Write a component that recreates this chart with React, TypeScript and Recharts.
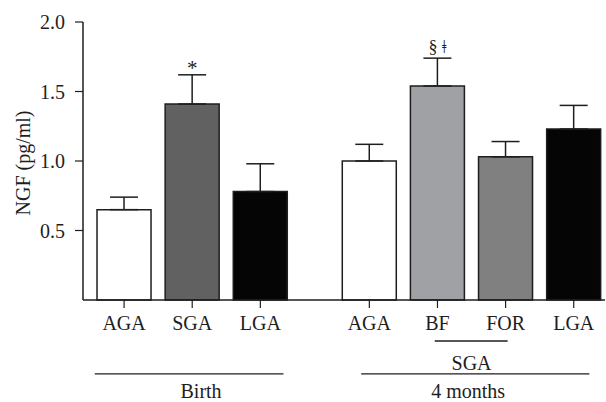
import React from 'react';
import {
  BarChart,
  Bar,
  XAxis,
  YAxis,
  ErrorBar,
  Cell,
  ReferenceLine,
  ReferenceDot,
} from 'recharts';

// ---- data ----
const categories = ['AGA', 'SGA', 'LGA', 'AGA', 'BF', 'FOR', 'LGA'];
const periods = ['Birth', 'Birth', 'Birth', '4 months', '4 months', '4 months', '4 months'];
const meanNGF = [0.65, 1.41, 0.78, 1.0, 1.54, 1.03, 1.23];
const semNGF = [0.09, 0.21, 0.2, 0.12, 0.2, 0.11, 0.17];
const significance = ['', '*', '', '', '§ ǂ', '', ''];
const yTicks = [0.5, 1.0, 1.5, 2.0];
const groupNames = ['Birth', '4 months'];
const subGroupName = 'SGA';
const subGroupMembers = ['BF', 'FOR'];

// ---- styles / layout ----
const FONT = '"Liberation Serif", "Times New Roman", serif';
const INK = '#1e1e1e';
const barFills = ['#ffffff', '#616161', '#050505', '#ffffff', '#a0a1a5', '#808080', '#050505'];
const GROUP_GAP = 0.6;
const X_MIN = -0.603;
const X_MAX = 7.059;
const GROUP_LINE_Y = -0.532;
const SUB_LINE_Y = -0.295;
const FS = 20;

// positions computed from group membership
const positions: number[] = (() => {
  const out: number[] = [];
  let groupIdx = -1;
  let prev = '';
  let p = -1;
  periods.forEach((g) => {
    if (g !== prev) {
      groupIdx += 1;
      p += groupIdx === 0 ? 1 : 1 + GROUP_GAP;
      prev = g;
    } else {
      p += 1;
    }
    out.push(p);
  });
  return out;
})();

const rows = categories.map((c, i) => ({
  pos: positions[i],
  category: c,
  period: periods[i],
  mean: meanNGF[i],
  errRange: [0, semNGF[i]],
  sig: significance[i],
}));

const groupSpan = (name: string) => {
  const ps = rows.filter((r) => r.period === name).map((r) => r.pos);
  return [Math.min(...ps), Math.max(...ps)];
};

const labelForPos = (v: number) => {
  const r = rows.find((d) => Math.abs(d.pos - v) < 1e-6);
  return r ? r.category : '';
};

const textStyle = { fontFamily: FONT, fontSize: FS, fill: INK };

export default function App() {
  const [bStart, bEnd] = groupSpan(groupNames[0]);
  const [mStart, mEnd] = groupSpan(groupNames[1]);
  const subPs = rows
    .filter((r) => r.period === groupNames[1] && subGroupMembers.includes(r.category))
    .map((r) => r.pos);
  const sStart = Math.min(...subPs);
  const sEnd = Math.max(...subPs);

  return (
    <div style={{ position: 'absolute', left: 0, top: 0, width: 606, height: 402, background: '#fff' }}>
      <BarChart
        width={606}
        height={402}
        data={rows}
        margin={{ top: 22, right: 1, bottom: 0, left: 0 }}
      >
        <XAxis
          dataKey="pos"
          type="number"
          domain={[X_MIN, X_MAX]}
          allowDataOverflow
          ticks={positions}
          interval={0}
          tickFormatter={labelForPos}
          height={102}
          tickSize={8}
          tickMargin={8}
          axisLine={{ stroke: INK, strokeWidth: 1.5 }}
          tickLine={{ stroke: INK, strokeWidth: 1.2 }}
          tick={textStyle}
        />
        <YAxis
          type="number"
          domain={[0, 2]}
          ticks={yTicks}
          interval={0}
          tickFormatter={(v: number) => v.toFixed(1)}
          width={83}
          tickSize={8}
          tickMargin={10}
          axisLine={{ stroke: INK, strokeWidth: 1.5 }}
          tickLine={{ stroke: INK, strokeWidth: 1.2 }}
          tick={textStyle}
          label={{
            content: (props: any) => {
              const vb = props.viewBox || { x: 0, y: 22, width: 83, height: 278 };
              const cx = vb.x + 30;
              const cy = vb.y + vb.height / 2 + 2;
              return (
                <text
                  x={cx}
                  y={cy}
                  transform={`rotate(-90, ${cx}, ${cy})`}
                  textAnchor="middle"
                  style={{ fontFamily: FONT, fontSize: FS, fill: INK }}
                >
                  NGF (pg/ml)
                </text>
              );
            },
          }}
        />
        <Bar
          dataKey="mean"
          barSize={54}
          stroke={INK}
          strokeWidth={1.5}
          isAnimationActive={false}
        >
          {rows.map((r, i) => (
            <Cell key={i} fill={barFills[i]} />
          ))}
          <ErrorBar dataKey="errRange" width={14} stroke={INK} strokeWidth={1.5} direction="y" />
        </Bar>

        {rows
          .filter((r) => r.sig)
          .map((r, i) => (
            <ReferenceDot
              key={`sig-${i}`}
              x={r.pos}
              y={r.mean + r.errRange[1]}
              r={0}
              fill="none"
              stroke="none"
              ifOverflow="visible"
              label={{
                value: r.sig,
                position: 'top',
                offset: r.sig === '*' ? 0 : 5,
                fontFamily: FONT,
                fontSize: r.sig === '*' ? 21 : 18,
                fill: INK,
              }}
            />
          ))}

        {/* group lines */}
        <ReferenceLine
          segment={[
            { x: bStart - 0.43, y: GROUP_LINE_Y },
            { x: bEnd + 0.34, y: GROUP_LINE_Y },
          ]}
          ifOverflow="visible"
          stroke={INK}
          strokeWidth={1.3}
        />
        <ReferenceLine
          segment={[
            { x: mStart - 0.12, y: GROUP_LINE_Y },
            { x: mEnd + 0.23, y: GROUP_LINE_Y },
          ]}
          ifOverflow="visible"
          stroke={INK}
          strokeWidth={1.3}
        />
        <ReferenceLine
          segment={[
            { x: sStart - 0.04, y: SUB_LINE_Y },
            { x: sEnd + 0.03, y: SUB_LINE_Y },
          ]}
          ifOverflow="visible"
          stroke={INK}
          strokeWidth={1.3}
        />

        {/* group labels */}
        <ReferenceDot
          x={(bStart + bEnd) / 2 + 0.13}
          y={GROUP_LINE_Y}
          r={0}
          fill="none"
          stroke="none"
          ifOverflow="visible"
          label={{ value: groupNames[0], position: 'bottom', offset: 10, ...textStyle }}
        />
        <ReferenceDot
          x={(mStart + mEnd) / 2 - 0.05}
          y={GROUP_LINE_Y}
          r={0}
          fill="none"
          stroke="none"
          ifOverflow="visible"
          label={{ value: groupNames[1], position: 'bottom', offset: 10, ...textStyle }}
        />
        <ReferenceDot
          x={(sStart + sEnd) / 2}
          y={SUB_LINE_Y}
          r={0}
          fill="none"
          stroke="none"
          ifOverflow="visible"
          label={{ value: subGroupName, position: 'bottom', offset: 15, ...textStyle }}
        />
      </BarChart>
    </div>
  );
}
